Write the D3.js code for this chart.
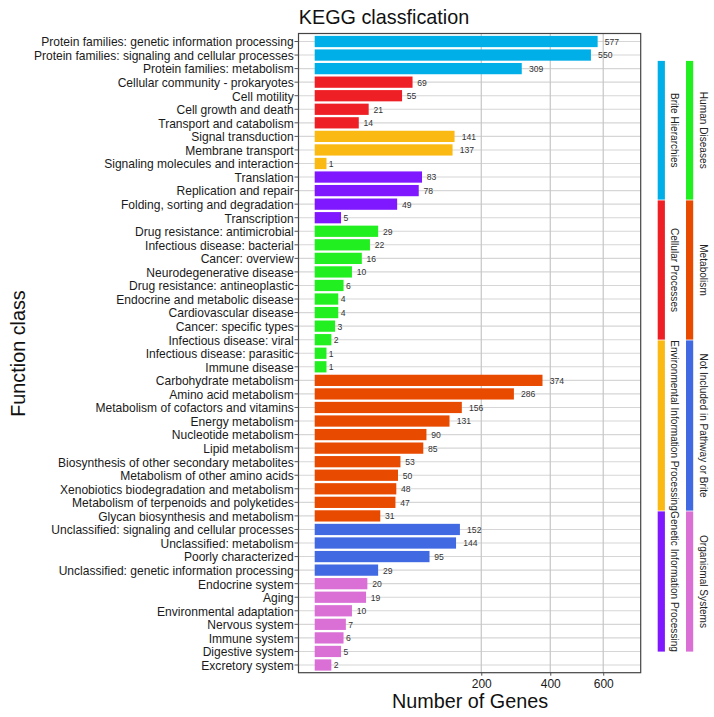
<!DOCTYPE html>
<html>
<head>
<meta charset="utf-8">
<script src="https://cdn.jsdelivr.net/npm/d3@7"></script>
<style>
	html, body { margin: 0; background: #fff; }
	text { font-family: "Liberation Sans", Arial, sans-serif; }
</style>
</head>
<body>
<script>
const categories = [
	"Protein families: genetic information processing", "Protein families: signaling and cellular processes", "Protein families: metabolism",
	"Cellular community - prokaryotes", "Cell motility", "Cell growth and death", "Transport and catabolism",
	"Signal transduction", "Membrane transport", "Signaling molecules and interaction",
	"Translation", "Replication and repair", "Folding, sorting and degradation", "Transcription",
	"Drug resistance: antimicrobial", "Infectious disease: bacterial", "Cancer: overview", "Neurodegenerative disease",
	"Drug resistance: antineoplastic", "Endocrine and metabolic disease", "Cardiovascular disease", "Cancer: specific types",
	"Infectious disease: viral", "Infectious disease: parasitic", "Immune disease",
	"Carbohydrate metabolism", "Amino acid metabolism", "Metabolism of cofactors and vitamins", "Energy metabolism",
	"Nucleotide metabolism", "Lipid metabolism", "Biosynthesis of other secondary metabolites", "Metabolism of other amino acids",
	"Xenobiotics biodegradation and metabolism", "Metabolism of terpenoids and polyketides", "Glycan biosynthesis and metabolism",
	"Unclassified: signaling and cellular processes", "Unclassified: metabolism", "Poorly characterized", "Unclassified: genetic information processing",
	"Endocrine system", "Aging", "Environmental adaptation", "Nervous system", "Immune system", "Digestive system", "Excretory system"
];
const geneCounts = [
	577, 550, 309,
	69, 55, 21, 14,
	141, 137, 1,
	83, 78, 49, 5,
	29, 22, 16, 10, 6, 4, 4, 3, 2, 1, 1,
	374, 286, 156, 131, 90, 85, 53, 50, 48, 47, 31,
	152, 144, 95, 29,
	20, 19, 10, 7, 6, 5, 2
];
const classNames = [
	"Brite Hierarchies", "Cellular Processes", "Environmental Information Processing", "Genetic Information Processing",
	"Human Diseases", "Metabolism", "Not Included in Pathway or Brite", "Organismal Systems"
];
const classSizes = [3, 4, 3, 4, 11, 11, 4, 7];
const classColors = ["#00AEE8", "#EE1F25", "#FBB914", "#7F17FF", "#21EF1F", "#E84A00", "#4169E1", "#DA70D6"];
const xTicks = [200, 400, 600];

const width = 714, height = 717;
const panel = { left: 298.5, right: 640.7, top: 33.5, bottom: 672.7 };

/* one class index per category, in drawing order */
const classOfRow = classSizes.flatMap((n, i) => d3.range(n).map(() => i));
const color = d3.scaleOrdinal().domain(d3.range(classNames.length)).range(classColors);

const svg = d3.select("body").append("svg")
	.attr("width", width)
	.attr("height", height)
	.style("display", "block");

const x = d3.scaleSqrt().domain([0, 766]).range([314.7, panel.right]);
const step = (665 - 41.5) / (categories.length - 1);
const y = d3.scaleBand()
	.domain(categories)
	.range([41.5 - step / 2, 665 + step / 2])
	.paddingInner(0.17)
	.paddingOuter(0.085);

/* grid */
svg.append("g").selectAll("line")
	.data(categories)
	.join("line")
		.attr("x1", panel.left).attr("x2", panel.right)
		.attr("y1", d => y(d) + y.bandwidth() / 2).attr("y2", d => y(d) + y.bandwidth() / 2)
		.attr("stroke", "#d6d6d6").attr("stroke-width", 1.1);
svg.append("g").selectAll("line")
	.data(xTicks)
	.join("line")
		.attr("x1", d => x(d)).attr("x2", d => x(d))
		.attr("y1", panel.top).attr("y2", panel.bottom)
		.attr("stroke", "#c6c6c6").attr("stroke-width", 1.2);

/* bars */
svg.append("g").selectAll("rect")
	.data(categories)
	.join("rect")
		.attr("x", x(0))
		.attr("y", d => y(d))
		.attr("width", (d, i) => x(geneCounts[i]) - x(0))
		.attr("height", y.bandwidth())
		.attr("fill", (d, i) => color(classOfRow[i]));

/* value labels, set off by half their own width */
svg.append("g").selectAll("text")
	.data(categories)
	.join("text")
		.attr("y", d => y(d) + y.bandwidth() / 2 + 0.4)
		.attr("dy", "0.35em")
		.attr("font-size", 8.6)
		.attr("fill", "#333")
		.text((d, i) => geneCounts[i])
		.attr("x", function (d, i) {
			return x(geneCounts[i]) + this.getComputedTextLength() * 0.5;
		});

/* panel border */
svg.append("rect")
	.attr("x", panel.left)
	.attr("y", panel.top)
	.attr("width", panel.right - panel.left)
	.attr("height", panel.bottom - panel.top)
	.attr("fill", "none")
	.attr("stroke", "#444")
	.attr("stroke-width", 1.2);

/* axes */
const yAxis = svg.append("g")
	.attr("transform", `translate(${panel.left},0)`)
	.call(d3.axisLeft(y).tickSize(4).tickPadding(0.8));
yAxis.select(".domain").remove();
yAxis.selectAll("line").attr("stroke", "#555");
yAxis.selectAll("text")
	.attr("font-size", 12.05)
	.attr("fill", "#1a1a1a")
	.attr("dy", "0.4em");

const xAxis = svg.append("g")
	.attr("transform", `translate(0,${panel.bottom})`)
	.call(d3.axisBottom(x).tickValues(xTicks).tickSize(3).tickPadding(4));
xAxis.select(".domain").remove();
xAxis.selectAll("line").attr("stroke", "#555");
xAxis.selectAll("text").attr("font-size", 12).attr("fill", "#1a1a1a");

/* titles */
svg.append("text")
	.attr("x", 384).attr("y", 24)
	.attr("text-anchor", "middle")
	.attr("font-size", 19.8)
	.attr("fill", "#111")
	.text("KEGG classfication");
svg.append("text")
	.attr("x", 470).attr("y", 708)
	.attr("text-anchor", "middle")
	.attr("font-size", 19.8)
	.attr("fill", "#111")
	.text("Number of Genes");
svg.append("text")
	.attr("transform", "translate(24.5,353.5) rotate(-90)")
	.attr("text-anchor", "middle")
	.attr("font-size", 19.8)
	.attr("fill", "#111")
	.text("Function class");

/* class strips: two columns of four, each with its name turned alongside */
const stripBreaks = [60.5, 200, 340, 511, 652];
const stripColumns = [
	{ classes: [0, 1, 2, 3], barX: 657.7, textX: 671 },
	{ classes: [4, 5, 6, 7], barX: 686, textX: 699.5 }
];
stripColumns.forEach(col => {
	const g = svg.append("g");
	g.selectAll("rect")
		.data(col.classes)
		.join("rect")
			.attr("x", col.barX)
			.attr("y", (d, i) => stripBreaks[i] + 0.4)
			.attr("width", 7.2)
			.attr("height", (d, i) => stripBreaks[i + 1] - stripBreaks[i] - 0.8)
			.attr("fill", d => color(d));
	g.selectAll("text")
		.data(col.classes)
		.join("text")
			.attr("transform", (d, i) => `translate(${col.textX},${(stripBreaks[i] + stripBreaks[i + 1]) / 2}) rotate(90)`)
			.attr("text-anchor", "middle")
			.attr("font-size", 10.1)
			.attr("fill", "#222")
			.text(d => classNames[d]);
});
</script>
</body>
</html>
